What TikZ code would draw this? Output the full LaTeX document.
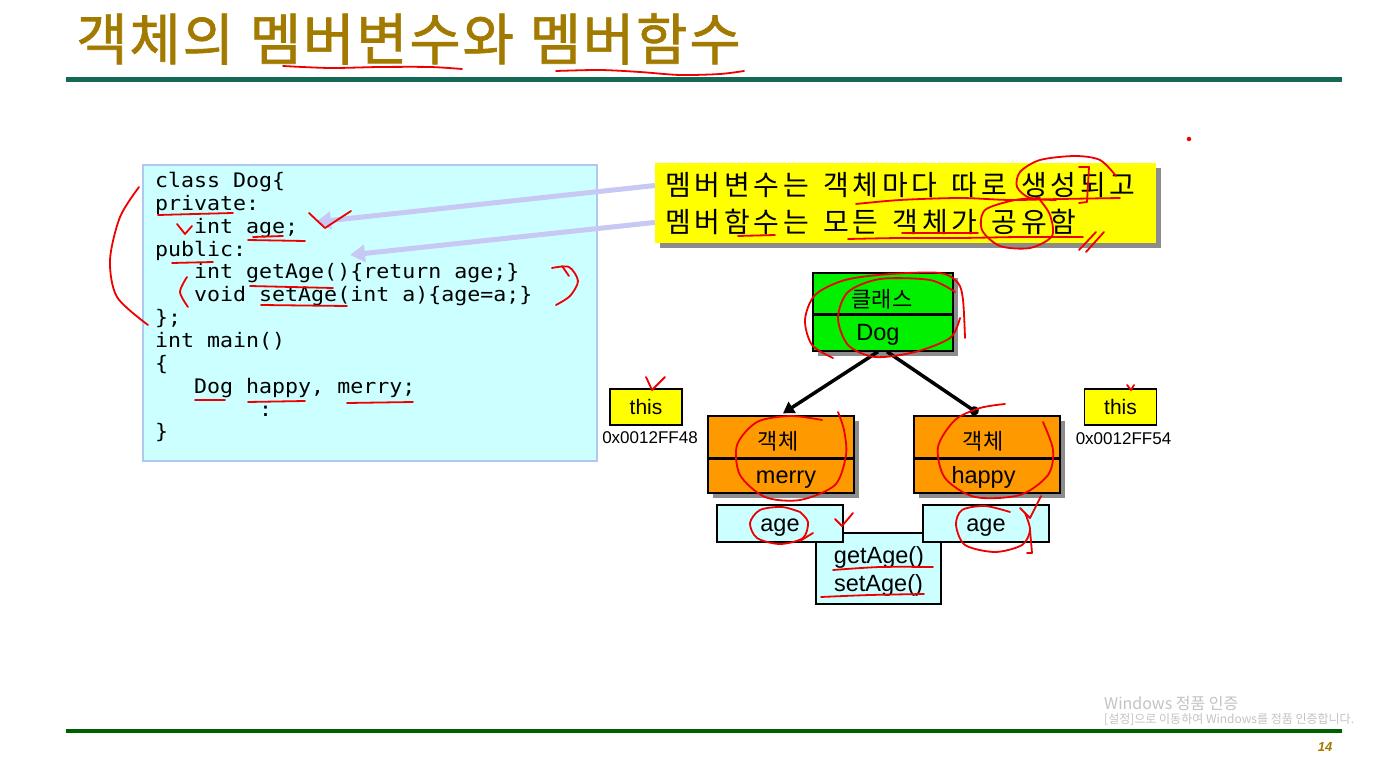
\documentclass[tikz,border=0pt]{standalone}
\usepackage{fontspec}
\setmainfont{Liberation Sans}
\newfontfamily\kr{Noto Sans CJK KR}
\newfontfamily\krtitle[FakeBold=1.2,LetterSpace=3,WordSpace=1.1]{Noto Sans CJK KR}
\newfontfamily\krnote[LetterSpace=13.5,WordSpace=1.4]{Noto Sans CJK KR}
\newfontfamily\code[FakeStretch=1.08]{DejaVu Sans Mono}
\usetikzlibrary{arrows.meta,shadows}
\newcommand\fsz[2]{\fontsize{#1}{#2}\selectfont}
\definecolor{titlegold}{RGB}{162,122,0}
\definecolor{ruleone}{RGB}{20,104,84}
\definecolor{ruletwo}{RGB}{0,96,0}
\definecolor{codebg}{RGB}{204,255,255}
\definecolor{codeln}{RGB}{175,200,240}
\definecolor{lav}{RGB}{200,200,245}
\definecolor{boxgreen}{RGB}{0,240,0}
\definecolor{boxorange}{RGB}{255,153,0}
\definecolor{ylw}{RGB}{255,255,0}
\definecolor{wm}{RGB}{195,195,195}
\definecolor{pen}{RGB}{238,0,0}
\begin{document}
\begin{tikzpicture}[x=1pt,y=-1pt,
  every node/.style={inner sep=0pt},
  shd/.style={drop shadow={shadow xshift=5pt,shadow yshift=-5pt,fill=black!45,opacity=1}},
  bigbox/.style={draw=black,line width=1.3pt,minimum width=#1,shd},
  clsbox/.style={bigbox=140pt,fill=boxgreen,minimum height=78pt},
  objbox/.style={bigbox=146pt,fill=boxorange,minimum height=77pt},
  divider/.style={line width=3pt,black},
  thisbox/.style={draw=black,line width=1.2pt,fill=ylw,minimum width=72pt,minimum height=36pt,font=\fsz{21}{24}},
  membox/.style={draw=black,line width=1.1pt,fill=codebg,minimum width=126pt,minimum height=37pt},
  lbl/.style={font=\fsz{23.5}{27}},
  klbl/.style={font=\kr\fsz{22}{26}},
  addr/.style={font=\fsz{17}{20}},
  lavarrow/.style={draw=lav,line width=5pt,-{Triangle[length=15pt,width=17pt]}},
  blk/.style={draw=black,line width=3.5pt},
  pen/.style={draw=pen,line width=1.8pt,line cap=round,line join=round}]
\useasboundingbox (0,0) rectangle (1396,767);
\fill[white] (0,0) rectangle (1396,767);
% title and rules
\node[anchor=base west,font=\krtitle\fsz{56}{60},text=titlegold] (title) at (76,60) {객체의 멤버변수와 멤버함수};
\draw[ruleone,line width=5pt] (66,79.5) -- (1342,79.5);
\draw[ruletwo,line width=4pt] (66,731) -- (1342,731);
% code box
\node[draw=codeln,line width=1.5pt,fill=codebg,minimum width=454pt,minimum height=296pt] (codebox) at (370,313) {};
\node[anchor=north west,align=left,font=\code\fsz{20}{22.85}] (code) at (155,172) {class Dog\{\\private:\\\phantom{xxx}int age;\\public:\\\phantom{xxx}int getAge()\{return age;\}\\\phantom{xxx}void setAge(int a)\{age=a;\}\\\};\\int main()\\\{\\\phantom{xxx}Dog happy, merry;\\\phantom{xxxxxxxx}:\\\}};
% note box
\node[fill=ylw,minimum width=501pt,minimum height=80pt,shd] (note) at (905.5,203) {};
\node[anchor=base west,font=\krnote\fsz{28}{34}] (n1) at (665,196) {멤버변수는 객체마다 따로 생성되고};
\node[anchor=base west,font=\krnote\fsz{28}{34}] (n2) at (665,233) {멤버함수는 모든 객체가 공유함};
\coordinate (agetip) at (316,222);
\coordinate (fntip) at (350,255);
\draw[lavarrow] (note.west |- n1) -- (agetip);
\draw[lavarrow] (note.west |- n2) -- (fntip);
% class box
\node[clsbox] (cls) at (883,312) {};
\draw[divider] ([yshift=-2pt]cls.west) -- ([yshift=-2pt]cls.east);
\node[klbl,anchor=base] (clsk) at (882,307) {\kr 클래스};
\node[lbl,anchor=base] (clsn) at (878,340) {Dog};
% objects
\node[objbox] (merry) at (781,454.5) {};
\draw[divider] ([yshift=-3.5pt]merry.west) -- ([yshift=-3.5pt]merry.east);
\node[klbl,anchor=base] (mk) at (778,449) {\kr 객체};
\node[lbl,anchor=base] (mn) at (786,483) {merry};
\node[objbox] (happy) at (987,454.5) {};
\draw[divider] ([yshift=-3.5pt]happy.west) -- ([yshift=-3.5pt]happy.east);
\node[klbl,anchor=base] (hk) at (983,449) {\kr 객체};
\node[lbl,anchor=base] (hn) at (983.5,483) {happy};
\draw[blk,-{Triangle[length=11pt,width=13pt]}] ([xshift=-5pt]cls.south) -- ([xshift=2pt,yshift=2pt]merry.north);
\draw[blk,-{Circle[length=9pt]}] ([xshift=4pt]cls.south) -- ([xshift=-9pt,yshift=2pt]happy.north);
% this boxes
\node[thisbox] (this1) at (646,407) {this};
\node[addr,anchor=base] (ad1) at (650,443) {0x0012FF48};
\node[thisbox] (this2) at (1120.5,407) {this};
\node[addr,anchor=base] (ad2) at (1123.5,444) {0x0012FF54};
% member boxes
\node[membox,minimum width=125pt,minimum height=71pt] (fn) at (878.5,568.5) {};
\node[membox] (age1) at (780,523.5) {};
\node[membox] (age2) at (986,523.5) {};
\node[lbl,anchor=base] (a1) at (780,531) {age};
\node[lbl,anchor=base] (a2) at (986,531) {age};
\node[lbl,anchor=base] (g1) at (879,563) {getAge()};
\node[lbl,anchor=base] (s1) at (878.5,591) {setAge()};
% watermark and page number
\node[anchor=base west,font=\kr\fsz{16}{18},text=wm] (wm1) at (1104,709) {Windows 정품 인증};
\node[anchor=base west,font=\kr\fsz{12}{14},text=wm] (wm2) at (1104,723) {[설정]으로 이동하여 Windows를 정품 인증합니다.};
\node[anchor=base,font=\bfseries\itshape\fsz{13}{15},text=titlegold] (pg) at (1325,751) {14};
% red pen annotations
\draw[pen] plot[smooth] coordinates {(283,66) (330,68) (380,67) (430,67) (462,69)};
\draw[pen] plot[smooth] coordinates {(556,71) (600,70) (640,72) (680,75) (720,74) (744,71)};
\fill[pen] (1189,139) circle (1.5pt);
\draw[pen] plot[smooth] coordinates {(139,187) (120,217) (110,260) (117,297) (148,325)};
\draw[pen] plot[smooth] coordinates {(158,215) (195,214) (233,213)};
\draw[pen] (177,224) -- (185,234) -- (192,226);
\draw[pen] (253,237) -- (283,236);
\draw[pen] (248,240) -- (305,241);
\draw[pen] (309,213) -- (325,228) -- (351,211);
\draw[pen] (172,263) -- (213,262);
\draw[pen] (250,286) -- (333,288);
\draw[pen] (261,305) -- (347,306);
\draw[pen] plot[smooth] coordinates {(187,277) (180,292) (188,307)};
\draw[pen] plot[smooth] coordinates {(552,268) (569,267) (578,281) (570,296) (556,305)};
\draw[pen] (562,266) -- (569,276);
\draw[pen] (195,400) -- (225,400);
\draw[pen] (248,402) -- (305,401);
\draw[pen] (347,403) -- (413,402);
\draw[pen] plot[smooth] coordinates {(856,204) (900,200) (960,198) (1010,200) (1060,199) (1120,198)};
\draw[pen] plot[smooth] coordinates {(1116,176) (1100,160) (1075,156) (1040,160) (1020,172) (1017,187) (1030,198) (1056,200)};
\draw[pen] (1079,167) -- (1089,167) -- (1087,202) -- (1079,203);
\draw[pen] (738,236) -- (775,235);
\draw[pen] plot[smooth] coordinates {(848,239) (900,238) (960,238) (1020,237) (1083,237)};
\draw[pen] (902,233) -- (978,233);
\draw[pen] plot[smooth] coordinates {(1040,198) (1015,200) (985,210) (982,230) (1000,246) (1030,248) (1052,236) (1050,215) (1040,200)};
\draw[pen] (1079,250) -- (1096,232);
\draw[pen] (1086,252) -- (1104,232);
\draw[pen] plot[smooth] coordinates {(833,358) (812,345) (805,320) (815,295) (845,280) (890,274) (940,273) (958,283) (963,300) (965,338)};
\draw[pen] plot[smooth] coordinates {(955,292) (930,280) (880,279) (848,292) (838,318) (848,345) (875,357) (915,352) (950,338) (960,318)};
\draw[pen] plot[smooth] coordinates {(822,420) (790,416) (757,422) (737,445) (740,475) (765,497) (800,500) (835,485) (846,455) (844,430) (838,412)};
\draw[pen] plot[smooth] coordinates {(1005,404) (980,408) (955,420) (938,447) (945,478) (975,497) (1020,495) (1048,475) (1053,450) (1043,422)};
\draw[pen] (646,377) -- (652,390) -- (665,377);
\draw[pen] (1127,385) -- (1131,390) -- (1134,385);
\draw[pen] plot[smooth] coordinates {(800,512) (782,507) (760,510) (750,523) (757,538) (780,544) (803,538) (808,522) (800,512)};
\draw[pen] (800,541) -- (813,533);
\draw[pen] (835,519) -- (842,526) -- (853,513);
\draw[pen] plot[smooth] coordinates {(1010,512) (985,506) (962,510) (956,525) (965,545) (995,552) (1022,545) (1030,530) (1025,513)};
\draw[pen] (1030,530) -- (1032,553) -- (1027,553);
\draw[pen] (1020,508) -- (1030,518) -- (1041,496);
\draw[pen] plot[smooth] coordinates {(833,570) (880,567) (933,567)};
\draw[pen] plot[smooth] coordinates {(821,597) (870,595) (924,594)};
\end{tikzpicture}
\end{document}
